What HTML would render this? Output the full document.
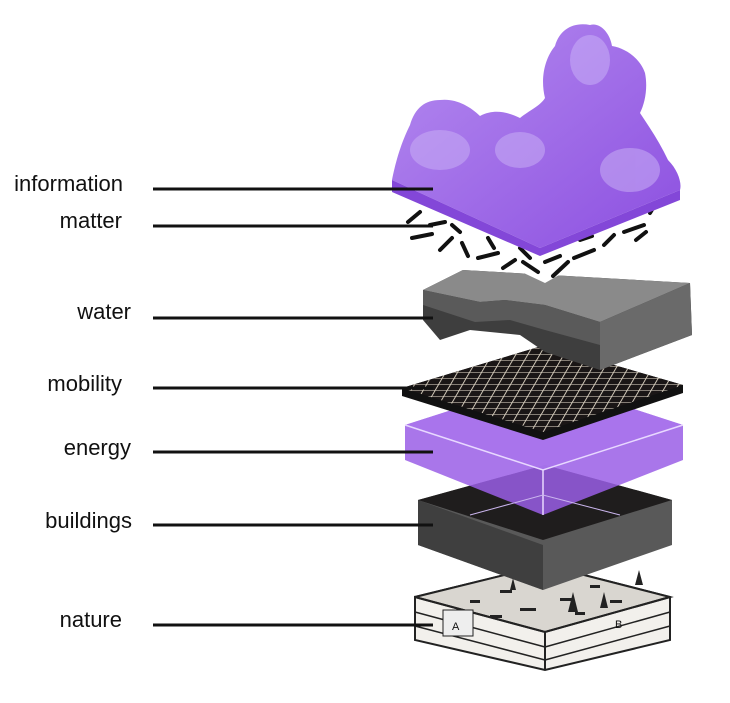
<!DOCTYPE html>
<html><head><meta charset="utf-8"><style>
html,body{margin:0;padding:0;background:#fff;width:730px;height:703px;overflow:hidden}
svg{display:block}
text{font-family:"Liberation Sans",sans-serif;font-size:22px;fill:#111}
</style></head><body>
<svg width="730" height="703" viewBox="0 0 730 703">
<defs>
<linearGradient id="cl" x1="0" y1="0" x2="1" y2="1"><stop offset="0" stop-color="#b58cf0"/><stop offset="1" stop-color="#8c4fe0"/></linearGradient>
<pattern id="grid" width="12" height="12" patternUnits="userSpaceOnUse" patternTransform="skewX(-30) scale(1,0.5)"><rect width="12" height="12" fill="#1a1616"/><path d="M0 0H12M0 0V12" stroke="#d8cfbf" stroke-width="2.2"/></pattern>
</defs>
<!-- nature -->
<polygon points="415,597 545,565 670,597 670,640 545,670 415,640" fill="#f2f0ec" stroke="#222" stroke-width="2"/>
<polygon points="415,597 545,565 670,597 545,632" fill="#d9d6d0" stroke="#222" stroke-width="2"/>
<polyline points="415,640 415,597 545,632 670,597" fill="none" stroke="#222" stroke-width="2"/>
<line x1="545" y1="632" x2="545" y2="670" stroke="#222" stroke-width="2"/>
<g stroke="#222" stroke-width="1.5">
<line x1="415" y1="612" x2="545" y2="647"/><line x1="415" y1="626" x2="545" y2="660"/>
<line x1="545" y1="647" x2="670" y2="612"/><line x1="545" y1="660" x2="670" y2="626"/>
</g>
<rect x="443" y="610" width="30" height="26" fill="#eee" stroke="#222"/>
<text x="452" y="630" style="font-size:11px">A</text>
<text x="615" y="628" style="font-size:11px">B</text>
<g fill="#222"><rect x="500" y="590" width="12" height="3"/><rect x="560" y="598" width="14" height="3"/><rect x="590" y="585" width="10" height="3"/><rect x="520" y="608" width="16" height="3"/><rect x="470" y="600" width="10" height="3"/><rect x="610" y="600" width="12" height="3"/><rect x="530" y="580" width="10" height="3"/><rect x="490" y="615" width="12" height="3"/><rect x="575" y="612" width="10" height="3"/><polygon points="568,612 573,592 578,612"/><polygon points="600,608 604,592 608,608"/><polygon points="635,585 639,570 643,585"/><polygon points="510,590 513,578 516,590"/></g>
<!-- buildings -->
<polygon points="418,500 545,465 672,500 672,545 543,590 418,545" fill="#595959"/>
<polygon points="418,545 543,590 543,545 418,500" fill="#3f3f3f"/>
<polygon points="418,500 545,465 672,500 543,540" fill="#1f1d1d"/>
<!-- energy -->
<polygon points="405,425 545,380 683,425 683,460 543,515 405,460" fill="#9a5ee6" opacity="0.85"/>
<polygon points="405,425 545,380 683,425 543,470" fill="#a874ec" opacity="0.9"/>
<polyline points="405,425 543,470 683,425" fill="none" stroke="#e8d8ff" stroke-width="1.5"/>
<line x1="543" y1="470" x2="543" y2="515" stroke="#e8d8ff" stroke-width="1.5"/>
<polyline points="470,515 543,495 620,515" fill="none" stroke="#cbb6ee" stroke-width="1"/>
<!-- mobility -->
<polygon points="402,388 545,345 683,385 683,393 543,440 402,396" fill="#111"/>
<polygon points="402,388 545,345 683,385 543,432" fill="url(#grid)"/>
<!-- water -->
<polygon points="423,290 463,270 690,283 692,335 600,370 545,352 520,335 470,330 440,340 423,320" fill="#3e3e3e"/>
<polygon points="423,290 463,270 690,283 600,322 545,305 505,300 480,302" fill="#8a8a8a"/>
<polygon points="600,322 690,283 692,335 600,370" fill="#6a6a6a"/>
<polygon points="423,290 480,302 505,300 545,305 600,322 600,345 545,330 510,320 475,322 423,305" fill="#5a5a5a"/>
<!-- matter -->
<polygon points="400,215 545,160 665,215 545,283" fill="#fff"/>
<g stroke="#111" stroke-width="4" stroke-linecap="round">
<line x1="408" y1="222" x2="420" y2="212"/><line x1="412" y1="238" x2="432" y2="234"/><line x1="440" y1="250" x2="452" y2="238"/><line x1="462" y1="243" x2="468" y2="256"/><line x1="478" y1="258" x2="498" y2="253"/><line x1="503" y1="268" x2="515" y2="260"/><line x1="523" y1="262" x2="538" y2="272"/><line x1="553" y1="276" x2="568" y2="262"/><line x1="574" y1="258" x2="594" y2="250"/><line x1="604" y1="245" x2="614" y2="235"/><line x1="624" y1="232" x2="644" y2="225"/><line x1="650" y1="213" x2="656" y2="203"/><line x1="488" y1="238" x2="494" y2="248"/><line x1="430" y1="225" x2="445" y2="222"/><line x1="520" y1="248" x2="530" y2="258"/><line x1="580" y1="240" x2="592" y2="236"/><line x1="636" y1="240" x2="646" y2="232"/><line x1="452" y1="225" x2="460" y2="232"/><line x1="545" y1="262" x2="560" y2="256"/></g>
<!-- cloud -->
<path d="M392,180 C395,165 400,145 410,125 C415,108 425,100 440,100 C455,98 470,106 480,116 C495,108 510,113 520,118 C530,110 540,106 545,98 C540,78 545,58 555,46 C560,28 575,22 590,25 C600,22 610,33 612,46 C625,48 640,58 645,73 C648,88 645,103 640,113 C650,128 660,143 668,160 C678,170 682,183 680,190 L540,248 Z" fill="url(#cl)"/>
<path d="M392,180 L540,248 L680,190 L680,200 L540,256 L392,192 Z" fill="#8347d8"/>
<g fill="#c8aef5" opacity="0.55"><ellipse cx="440" cy="150" rx="30" ry="20"/><ellipse cx="590" cy="60" rx="20" ry="25"/><ellipse cx="630" cy="170" rx="30" ry="22"/><ellipse cx="520" cy="150" rx="25" ry="18"/></g>
<!-- labels -->
<g stroke="#111" stroke-width="3">
<line x1="153" y1="189" x2="433" y2="189"/><line x1="153" y1="226" x2="433" y2="226"/><line x1="153" y1="318" x2="433" y2="318"/><line x1="153" y1="388" x2="433" y2="388"/><line x1="153" y1="452" x2="433" y2="452"/><line x1="153" y1="525" x2="433" y2="525"/><line x1="153" y1="625" x2="433" y2="625"/>
</g>
<g text-anchor="end">
<text x="123" y="191">information</text><text x="122" y="228">matter</text><text x="131" y="319">water</text><text x="122" y="391">mobility</text><text x="131" y="455">energy</text><text x="132" y="528">buildings</text><text x="122" y="627">nature</text>
</g>
</svg>
</body></html>
